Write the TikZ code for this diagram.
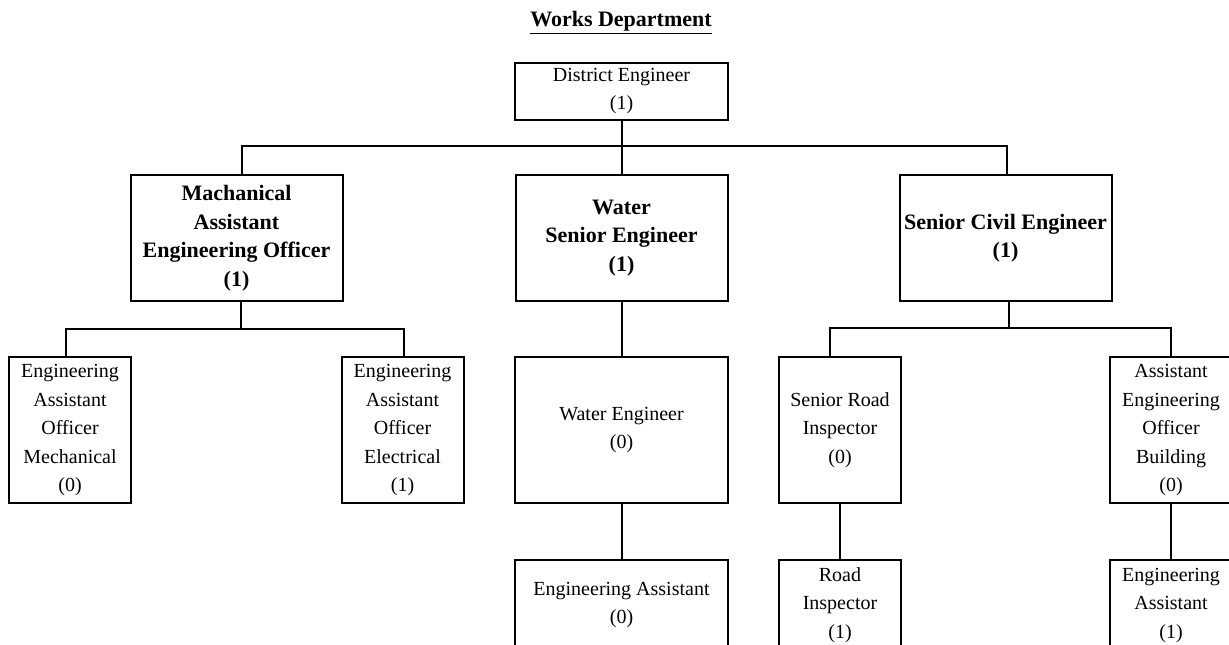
\documentclass[tikz,border=0pt]{standalone}
\usepackage{fontspec}
\setmainfont{Liberation Serif}
\usetikzlibrary{positioning}

\begin{document}
\begin{tikzpicture}[
  x=0.5pt, y=-0.5pt,
  node distance=27.5pt,
  box/.style={draw,line width=1pt,align=center,inner sep=1pt,font=\fontsize{10}{14.25}\selectfont},
  head/.style={box,font=\fontsize{11}{14.25}\selectfont\bfseries,minimum width=106pt,minimum height=63pt},
  narrow/.style={box,minimum width=61pt},
  wide/.style={box,minimum width=106.5pt},
  link/.style={line width=1pt}
]
\useasboundingbox (0,0) rectangle (1229,644);
\clip (0,0) rectangle (1229,644);

\node[font=\fontsize{11}{13}\selectfont\bfseries] (title) at (621,23) {\underline{Works Department}};

\node[wide,minimum height=28.5pt] (de) at (621.5,91) {District Engineer\\(1)};

\node[head] (mech) at (236.5,238) {Machanical\\Assistant\\Engineering Officer\\(1)};
\node[head] (wse) at (621.5,238) {Water\\Senior Engineer\\(1)};
\node[head] (sce) at (1005.5,238) {Senior Civil Engineer\\(1)};

\node[narrow,minimum height=73pt] (eaom) at (70,430) {Engineering\\Assistant\\Officer\\Mechanical\\(0)};
\node[narrow,minimum height=73pt] (eaoe) at (402.5,430) {Engineering\\Assistant\\Officer\\Electrical\\(1)};
\node[wide,minimum height=73pt] (we) at (621.5,430) {Water Engineer\\(0)};
\node[narrow,minimum height=73pt] (sri) at (840,430) {Senior Road\\Inspector\\(0)};
\node[narrow,minimum height=73pt] (aeob) at (1171,430) {Assistant\\Engineering\\Officer\\Building\\(0)};

\node[wide,minimum height=45pt,below=of we] (ea) {Engineering Assistant\\(0)};
\node[narrow,minimum height=45pt,below=of sri] (ri) {Road\\Inspector\\(1)};
\node[narrow,minimum height=45pt,below=of aeob] (eab) {Engineering\\Assistant\\(1)};

% top level
\coordinate (hl) at (242,146);
\coordinate (hr) at (1007,146);
\draw[link] (de.south) -- (de.south |- hl);
\draw[link] (hl |- mech.north) -- (hl) -- (hr) -- (hr |- sce.north);
\draw[link] (wse.north |- hl) -- (wse.north);

% mechanical branch
\coordinate (mj) at (241,329);
\coordinate (ml) at (66,329);
\coordinate (mr) at (404,329);
\draw[link] (mj |- mech.south) -- (mj);
\draw[link] (ml |- eaom.north) -- (ml) -- (mr) -- (mr |- eaoe.north);

% water branch
\draw[link] (wse) -- (we);
\draw[link] (we) -- (ea);

% civil branch
\coordinate (cj) at (1009,328);
\coordinate (cl) at (830,328);
\coordinate (cr) at (1171,328);
\draw[link] (cj |- sce.south) -- (cj);
\draw[link] (cl |- sri.north) -- (cl) -- (cr) -- (cr |- aeob.north);
\draw[link] (sri) -- (ri);
\draw[link] (aeob) -- (eab);
\end{tikzpicture}
\end{document}
